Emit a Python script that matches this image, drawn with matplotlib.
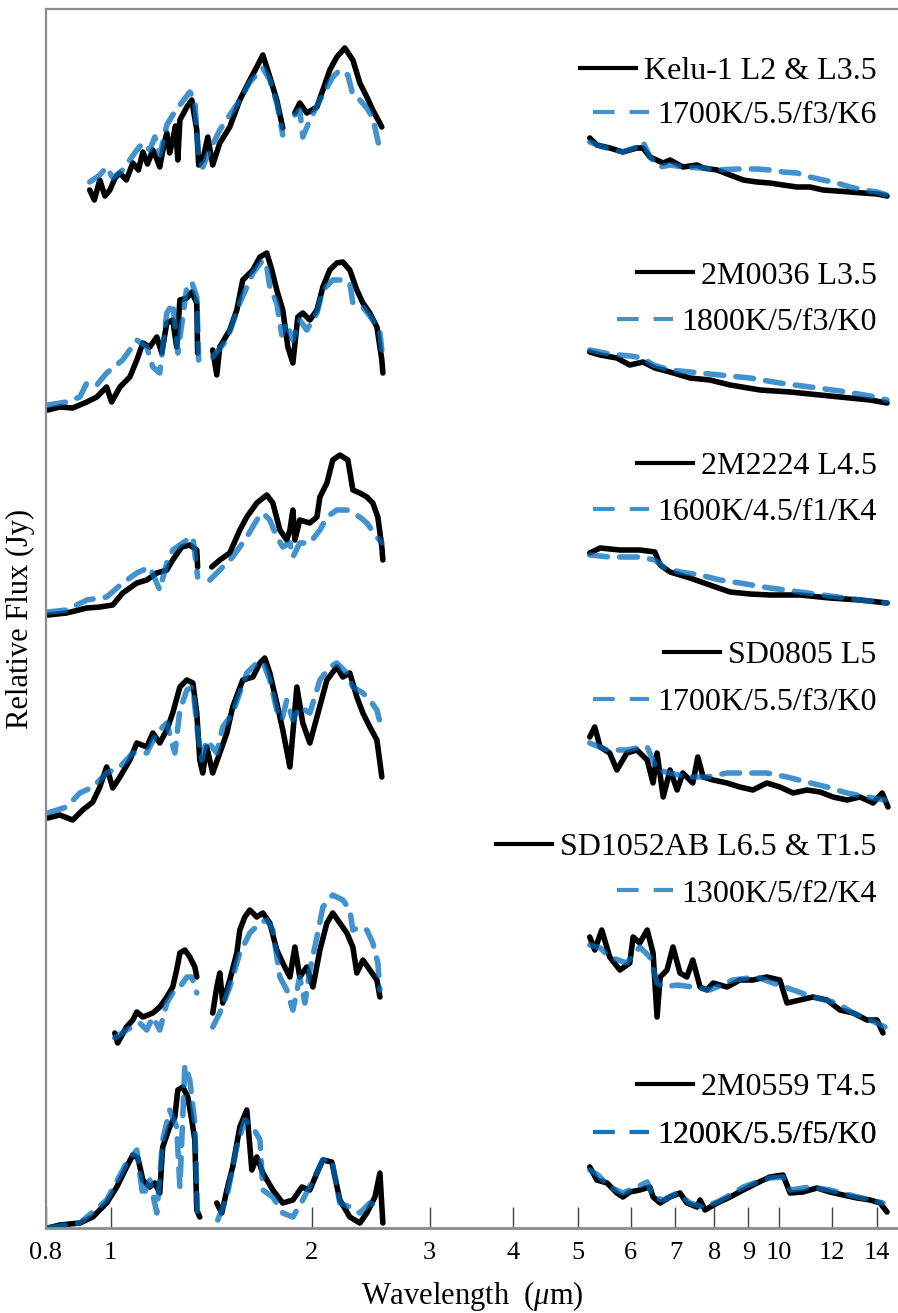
import numpy as np
import matplotlib
matplotlib.use("Agg")
import matplotlib.pyplot as plt
from matplotlib.font_manager import FontProperties
from matplotlib.lines import Line2D

nan = np.nan

# panel labels (top to bottom)
obs_names = ["Kelu-1 L2 & L3.5", "2M0036 L3.5", "2M2224 L4.5",
             "SD0805 L5", "SD1052AB L6.5 & T1.5", "2M0559 T4.5"]
model_names = ["1700K/5.5/f3/K6", "1800K/5/f3/K0", "1600K/4.5/f1/K4",
               "1700K/5.5/f3/K0", "1300K/5/f2/K4", "1200K/5.5/f5/K0"]
offsets = [10.2, 8.15, 6.1, 4.1, 2.0, 0.0]

# ---- Kelu-1 ----
kelu_obs_wl = [0.930, 0.945, 0.963, 0.980, 0.997, 1.015, 1.032, 1.055, 1.079, 1.100, 1.117, 1.135,
               1.156, 1.170, 1.184, 1.200, 1.213, 1.225, 1.238, 1.250, 1.260, 1.269,
               1.300, 1.322, 1.345, 1.354, 1.373, 1.397, 1.421, 1.456, 1.507, 1.560, 1.615, 1.654,
               1.689, 1.730, 1.772, 1.809, 1.84, 1.886, 1.918, 1.965, 2.035, 2.077, 2.127, 2.179,
               2.240, 2.303, 2.359, 2.417, 2.467, 2.545, 3.5,
               5.21, 5.34, 5.58, 5.84, 6.13, 6.26, 6.41, 6.71, 6.87, 7.18, 7.54, 7.70, 8.08, 8.45,
               8.84, 9.27, 9.69, 10.14, 10.64, 11.13, 11.64, 12.21, 12.77, 13.36, 14.02, 14.51]
kelu_obs = [0.18, 0.08, 0.28, 0.12, 0.18, 0.30, 0.35, 0.28, 0.45, 0.38, 0.56, 0.44,
            0.58, 0.50, 0.41, 0.62, 0.75, 0.55, 0.68, 0.82, 0.48, 0.88,
            1.01, 1.08, 0.78, 0.43, 0.48, 0.71, 0.43, 0.65, 0.81, 1.08, 1.28, 1.41,
            1.53, 1.31, 1.08, 0.80, nan, 0.95, 1.05, 0.95, 1.01, 1.18, 1.38, 1.51,
            1.60, 1.48, 1.25, 1.11, 0.98, 0.81, nan,
            0.70, 0.63, 0.60, 0.56, 0.60, 0.60, 0.51, 0.45, 0.48, 0.41, 0.43, 0.40, 0.38, 0.33,
            0.28, 0.26, 0.25, 0.23, 0.21, 0.21, 0.18, 0.17, 0.16, 0.15, 0.14, 0.12]
kelu_mod_wl = [0.930, 0.963, 0.986, 1.007, 1.042, 1.094, 1.117, 1.144, 1.164, 1.184, 1.213, 1.238,
               1.269, 1.313, 1.336, 1.354, 1.373, 1.407, 1.456, 1.507, 1.560, 1.615, 1.689, 1.730,
               1.772, 1.809, 1.84, 1.886, 1.918, 1.938, 1.986, 2.056, 2.149, 2.202, 2.264, 2.303,
               2.359, 2.417, 2.467, 2.528, 3.5,
               5.21, 5.45, 5.84, 6.13, 6.26, 6.41, 6.64, 6.87, 7.18, 7.70, 8.08, 8.65, 9.27, 9.69,
               10.14, 10.64, 11.13, 11.64, 12.21, 12.77, 13.36, 14.02, 14.51]
kelu_mod = [0.26, 0.33, 0.41, 0.30, 0.38, 0.58, 0.65, 0.58, 0.71, 0.53, 0.83, 0.93,
            1.03, 1.16, 1.08, 0.48, 0.41, 0.58, 0.78, 0.93, 1.08, 1.26, 1.40, 1.28,
            1.05, 0.73, nan, 0.93, 0.98, 0.71, 0.88, 1.08, 1.31, 1.38, 1.33, 1.13,
            1.08, 1.00, 0.90, 0.58, nan,
            0.66, 0.61, 0.56, 0.61, 0.66, 0.51, 0.41, 0.43, 0.41, 0.40, 0.38, 0.39, 0.39, 0.38,
            0.36, 0.35, 0.31, 0.28, 0.25, 0.21, 0.18, 0.16, 0.13]

# ---- 2M0036 ----
m0036_obs_wl = [0.805, 0.839, 0.877, 0.921, 0.953, 0.986, 1.003, 1.032, 1.068, 1.094, 1.117, 1.144,
                1.172, 1.192, 1.213, 1.238, 1.255, 1.269, 1.300, 1.322, 1.345, 1.349, 1.38, 1.421,
                1.441, 1.456, 1.507, 1.544, 1.576, 1.632, 1.672, 1.712, 1.742, 1.772, 1.809, 1.841,
                1.873, 1.905, 1.938, 1.986, 2.035, 2.077, 2.127, 2.179, 2.225, 2.279, 2.335, 2.384,
                2.442, 2.502, 2.545, 2.554, 3.5,
                5.21, 5.40, 5.72, 5.98, 6.26, 6.52, 6.87, 7.36, 7.88, 8.45, 9.37, 10.39, 11.52,
                12.77, 13.69, 14.51]
m0036_obs = [0.03, 0.06, 0.05, 0.11, 0.16, 0.26, 0.11, 0.26, 0.36, 0.53, 0.70, 0.66,
             0.76, 0.60, 0.90, 0.93, 0.66, 1.13, 1.15, 1.21, 1.10, 0.60, nan, 0.63,
             0.38, 0.66, 0.83, 1.03, 1.33, 1.43, 1.56, 1.60, 1.43, 1.23, 1.03, 0.66,
             0.50, 0.96, 1.00, 0.93, 1.03, 1.26, 1.43, 1.50, 1.51, 1.43, 1.23, 1.10,
             1.00, 0.86, 0.53, 0.40, nan,
             0.61, 0.58, 0.55, 0.48, 0.51, 0.45, 0.41, 0.35, 0.33, 0.28, 0.23, 0.21, 0.18,
             0.15, 0.13, 0.10]
m0036_mod_wl = [0.805, 0.859, 0.899, 0.921, 0.953, 0.986, 1.042, 1.094, 1.132, 1.156, 1.184, 1.213,
                1.238, 1.260, 1.300, 1.322, 1.345, 1.354, 1.38, 1.421, 1.492, 1.560, 1.632, 1.689,
                1.712, 1.730, 1.772, 1.803, 1.834, 1.873, 1.918, 1.965, 2.035, 2.077, 2.149, 2.225,
                2.279, 2.303, 2.384, 2.467, 2.528, 2.545, 3.5,
                5.21, 5.58, 5.98, 6.26, 6.48, 6.87, 7.36, 8.16, 9.05, 10.03, 11.13, 12.34, 13.69,
                14.51]
m0036_mod = [0.08, 0.11, 0.16, 0.30, 0.28, 0.40, 0.53, 0.73, 0.66, 0.46, 0.40, 1.00,
             1.10, 0.60, 1.26, 1.31, 1.16, 0.53, nan, 0.56, 0.73, 1.10, 1.40, 1.53,
             1.46, 1.26, 1.10, 0.78, 0.90, 0.73, 0.93, 0.83, 1.00, 1.23, 1.33, 1.33,
             1.30, 1.10, 1.06, 0.93, 0.80, 0.63, nan,
             0.63, 0.59, 0.57, 0.55, 0.48, 0.43, 0.41, 0.38, 0.35, 0.30, 0.26, 0.22, 0.17,
             0.13]

# ---- 2M2224 ----
m2224_obs_wl = [0.805, 0.859, 0.921, 0.963, 1.007, 1.042, 1.094, 1.132, 1.172, 1.213, 1.238, 1.277,
                1.313, 1.345, 1.349, 1.38, 1.416, 1.456, 1.507, 1.560, 1.598, 1.654, 1.712, 1.748,
                1.791, 1.834, 1.854, 1.873, 1.886, 1.918, 1.986, 2.035, 2.056, 2.106, 2.149, 2.202,
                2.264, 2.303, 2.359, 2.417, 2.467, 2.510, 2.545, 2.554, 3.5,
                5.21, 5.40, 5.78, 6.19, 6.52, 6.64, 6.87, 7.36, 7.88, 8.45, 9.05, 9.69, 10.75,
                11.92, 13.22, 14.51]
m2224_obs = [0.03, 0.05, 0.10, 0.11, 0.13, 0.25, 0.35, 0.38, 0.45, 0.48, 0.58, 0.71,
             0.73, 0.68, 0.51, nan, 0.51, 0.58, 0.65, 0.88, 1.01, 1.15, 1.23, 1.15,
             0.88, 0.78, 0.88, 1.08, 0.78, 0.98, 0.95, 1.01, 1.21, 1.35, 1.58, 1.63,
             1.58, 1.28, 1.25, 1.21, 1.15, 1.01, 0.71, 0.58, nan,
             0.65, 0.70, 0.68, 0.68, 0.66, 0.53, 0.46, 0.40, 0.33, 0.26, 0.24, 0.23, 0.23,
             0.20, 0.18, 0.15]
m2224_mod_wl = [0.805, 0.859, 0.921, 0.986, 1.042, 1.094, 1.144, 1.184, 1.213, 1.238, 1.300, 1.327,
                1.349, 1.38, 1.407, 1.456, 1.522, 1.598, 1.654, 1.689, 1.730, 1.772, 1.809, 1.854,
                1.873, 1.918, 1.986, 2.056, 2.106, 2.179, 2.256, 2.303, 2.359, 2.417, 2.502, 2.545,
                3.5,
                5.21, 5.58, 6.19, 6.52, 6.75, 7.11, 7.62, 8.16, 8.74, 9.69, 10.75, 11.92, 13.22,
                14.51]
m2224_mod = [0.06, 0.08, 0.18, 0.21, 0.35, 0.45, 0.51, 0.28, 0.55, 0.68, 0.78, 0.81,
             0.41, nan, 0.38, 0.48, 0.61, 0.81, 0.98, 1.05, 0.98, 0.81, 0.71, 0.75,
             0.61, 0.75, 0.75, 0.88, 1.01, 1.08, 1.08, 1.05, 1.01, 0.95, 0.81, 0.75,
             nan,
             0.63, 0.61, 0.61, 0.58, 0.50, 0.46, 0.43, 0.38, 0.35, 0.30, 0.26, 0.22, 0.18,
             0.15]

# ---- SD0805 ----
sd0805_obs_wl = [0.805, 0.839, 0.877, 0.908, 0.940, 0.963, 0.986, 1.007, 1.032, 1.068, 1.094, 1.132,
                 1.156, 1.184, 1.213, 1.238, 1.269, 1.300, 1.327, 1.345, 1.359, 1.373, 1.392, 1.421,
                 1.456, 1.492, 1.522, 1.576, 1.632, 1.672, 1.700, 1.730, 1.772, 1.809, 1.854, 1.899,
                 1.938, 1.986, 2.035, 2.106, 2.179, 2.225, 2.279, 2.335, 2.384, 2.442, 2.502, 2.545,
                 3.5,
                 5.21, 5.30, 5.40, 5.58, 5.72, 5.92, 6.13, 6.35, 6.48, 6.57, 6.71, 6.87, 7.04,
                 7.18, 7.43, 7.56, 7.70, 7.97, 8.36, 8.74, 9.14, 9.59, 10.03, 10.50, 11.01, 11.52,
                 12.05, 12.64, 13.22, 13.83, 14.27, 14.56]
sd0805_obs = [0.00, 0.03, -0.02, 0.08, 0.16, 0.31, 0.51, 0.30, 0.41, 0.58, 0.75, 0.71,
              0.85, 0.75, 0.88, 1.05, 1.31, 1.38, 1.35, 1.05, 0.58, 0.45, 0.71, 0.45,
              0.65, 0.85, 1.11, 1.38, 1.41, 1.55, 1.60, 1.45, 1.15, 0.88, 0.51, 1.31,
              0.95, 0.75, 1.01, 1.38, 1.51, 1.41, 1.45, 1.21, 1.05, 0.91, 0.78, 0.41,
              nan,
              0.81, 0.91, 0.71, 0.65, 0.48, 0.65, 0.68, 0.58, 0.35, 0.65, 0.21, 0.48, 0.28,
              0.45, 0.35, 0.61, 0.41, 0.38, 0.35, 0.31, 0.28, 0.35, 0.31, 0.25, 0.28, 0.26,
              0.21, 0.18, 0.21, 0.15, 0.25, 0.11]
sd0805_mod_wl = [0.805, 0.859, 0.899, 0.940, 0.986, 1.032, 1.079, 1.132, 1.172, 1.213, 1.247, 1.269,
                 1.300, 1.327, 1.349, 1.368, 1.392, 1.441, 1.471, 1.522, 1.598, 1.654, 1.689, 1.730,
                 1.772, 1.803, 1.834, 1.873, 1.918, 1.986, 2.056, 2.127, 2.179, 2.256, 2.303, 2.384,
                 2.442, 2.502, 2.545, 3.5,
                 5.21, 5.53, 5.92, 6.13, 6.35, 6.57, 6.87, 7.28, 7.80, 8.36, 8.96, 9.59, 10.28,
                 11.01, 11.80, 12.64, 13.54, 14.41]
sd0805_mod = [0.05, 0.11, 0.25, 0.31, 0.45, 0.51, 0.65, 0.65, 0.85, 0.95, 0.65, 1.08,
              1.28, 1.31, 0.85, 0.58, 0.78, 0.65, 0.91, 1.05, 1.45, 1.55, 1.56, 1.38,
              1.08, 0.98, 1.18, 0.98, 1.11, 1.05, 1.38, 1.51, 1.55, 1.45, 1.31, 1.25,
              1.18, 1.08, 0.88, nan,
              0.75, 0.68, 0.68, 0.70, 0.71, 0.48, 0.45, 0.41, 0.41, 0.45, 0.45, 0.45, 0.41,
              0.36, 0.31, 0.25, 0.21, 0.18]

# ---- SD1052AB ----
sd1052_obs_wl = [1.014, 1.024, 1.056, 1.079, 1.094, 1.117, 1.156, 1.184, 1.213, 1.238, 1.255, 1.269,
                 1.291, 1.313, 1.336, 1.345, 1.38, 1.421, 1.441, 1.456, 1.471, 1.507, 1.544, 1.560,
                 1.587, 1.615, 1.654, 1.689, 1.730, 1.772, 1.809, 1.854, 1.886, 1.918, 1.965, 2.007,
                 2.056, 2.106, 2.149, 2.202, 2.256, 2.303, 2.335, 2.384, 2.442, 2.502, 2.528, 3.5,
                 5.21, 5.30, 5.43, 5.58, 5.78, 5.98, 6.05, 6.19, 6.35, 6.48, 6.57, 6.64, 6.80,
                 6.94, 7.11, 7.28, 7.43, 7.62, 7.80, 7.97, 8.36, 8.74, 9.14, 9.59, 10.03, 10.28,
                 10.75, 11.24, 11.80, 12.34, 12.91, 13.54, 14.02, 14.31]
sd1052_obs = [-0.05, -0.15, 0.01, 0.08, 0.16, 0.11, 0.15, 0.21, 0.31, 0.41, 0.58, 0.75,
              0.78, 0.71, 0.61, 0.51, nan, 0.15, 0.41, 0.55, 0.25, 0.48, 0.75, 0.98,
              1.11, 1.18, 1.11, 1.15, 1.05, 0.78, 0.65, 0.51, 0.81, 0.51, 0.61, 0.41,
              0.78, 1.05, 1.15, 1.05, 0.95, 0.81, 0.55, 0.68, 0.58, 0.48, 0.31, nan,
              0.91, 0.78, 0.98, 0.71, 0.58, 0.65, 0.91, 0.85, 0.98, 0.75, 0.11, 0.51, 0.58,
              0.81, 0.55, 0.51, 0.68, 0.41, 0.38, 0.45, 0.41, 0.48, 0.48, 0.51, 0.48, 0.25,
              0.28, 0.31, 0.28, 0.18, 0.15, 0.08, 0.08, -0.05]
sd1052_mod_wl = [1.014, 1.056, 1.105, 1.132, 1.156, 1.184, 1.213, 1.238, 1.269, 1.300, 1.322, 1.345,
                 1.38, 1.421, 1.456, 1.507, 1.560, 1.615, 1.672, 1.712, 1.748, 1.791, 1.834, 1.873,
                 1.918, 1.952, 1.986, 2.035, 2.077, 2.149, 2.225, 2.279, 2.303, 2.359, 2.417, 2.467,
                 2.510, 2.528, 3.5,
                 5.21, 5.40, 5.58, 5.92, 6.19, 6.41, 6.57, 6.71, 7.04, 7.43, 7.88, 8.53, 9.27,
                 9.79, 10.50, 11.24, 12.21, 12.91, 13.69, 14.41]
sd1052_mod = [-0.10, -0.02, 0.05, -0.02, 0.11, -0.02, 0.25, 0.35, 0.41, 0.51, 0.51, 0.35,
              nan, 0.01, 0.15, 0.41, 0.75, 0.95, 1.05, 1.08, 0.98, 0.51, 0.38, 0.18,
              0.51, 0.25, 0.58, 0.91, 1.21, 1.33, 1.28, 1.18, 0.98, 1.01, 0.98, 0.85,
              0.65, 0.38, nan,
              0.83, 0.80, 0.71, 0.65, 0.81, 0.71, 0.45, 0.41, 0.43, 0.41, 0.38, 0.48, 0.51,
              0.45, 0.38, 0.31, 0.25, 0.15, 0.08, 0.01]

# ---- 2M0559 ----
m0559_obs_wl = [0.805, 0.839, 0.899, 0.940, 0.986, 1.021, 1.056, 1.079, 1.098, 1.117, 1.144, 1.164,
                1.184, 1.196, 1.225, 1.247, 1.260, 1.282, 1.304, 1.322, 1.336, 1.345, 1.359, 1.40,
                1.441, 1.466, 1.492, 1.522, 1.560, 1.598, 1.626, 1.654, 1.689, 1.748, 1.809, 1.873,
                1.932, 1.986, 2.035, 2.077, 2.142, 2.202, 2.279, 2.359, 2.417, 2.485, 2.528, 2.554,
                3.5,
                5.21, 5.34, 5.53, 5.72, 5.84, 5.98, 6.19, 6.41, 6.48, 6.64, 6.87, 7.11, 7.28,
                7.54, 7.62, 7.75, 8.08, 8.45, 8.84, 9.27, 9.69, 10.14, 10.39, 10.86, 11.40, 11.92,
                12.47, 13.09, 13.69, 14.17, 14.51]
m0559_obs = [0.00, 0.03, 0.05, 0.11, 0.25, 0.41, 0.61, 0.73, 0.70, 0.48, 0.41, 0.45,
             0.35, 0.81, 1.01, 1.11, 1.38, 1.41, 1.31, 1.08, 0.88, 0.18, 0.11, nan,
             0.25, 0.15, 0.38, 0.61, 1.01, 1.18, 0.58, 0.71, 0.55, 0.38, 0.25, 0.28,
             0.41, 0.38, 0.55, 0.68, 0.66, 0.28, 0.11, 0.05, 0.15, 0.31, 0.55, 0.05,
             nan,
             0.61, 0.48, 0.45, 0.35, 0.31, 0.36, 0.38, 0.41, 0.31, 0.25, 0.31, 0.35, 0.25,
             0.21, 0.28, 0.18, 0.25, 0.31, 0.38, 0.45, 0.51, 0.53, 0.35, 0.36, 0.40, 0.36,
             0.33, 0.30, 0.28, 0.25, 0.16]
m0559_mod_wl = [0.805, 0.899, 0.986, 1.056, 1.094, 1.117, 1.144, 1.172, 1.196, 1.225, 1.255, 1.269,
                1.291, 1.313, 1.336, 1.349, 1.40, 1.446, 1.492, 1.544, 1.587, 1.632, 1.672, 1.689,
                1.748, 1.809, 1.873, 1.938, 2.007, 2.077, 2.142, 2.202, 2.279, 2.359, 2.442, 2.528,
                3.5,
                5.21, 5.36, 5.58, 5.84, 6.13, 6.35, 6.48, 6.71, 7.04, 7.36, 7.70, 8.08, 8.45,
                8.84, 9.27, 9.69, 10.14, 10.39, 11.13, 11.92, 12.77, 13.69, 14.31]
m0559_mod = [0.00, 0.05, 0.28, 0.65, 0.78, 0.31, 0.48, 0.15, 0.88, 1.18, 1.01, 0.41,
             1.63, 1.48, 1.05, 0.08, nan, 0.08, 0.31, 0.81, 1.08, 1.01, 0.88, 0.38,
             0.31, 0.15, 0.11, 0.28, 0.48, 0.68, 0.68, 0.25, 0.21, 0.15, 0.25, 0.21,
             nan,
             0.58, 0.53, 0.41, 0.35, 0.41, 0.46, 0.31, 0.28, 0.35, 0.25, 0.21, 0.26, 0.33,
             0.41, 0.46, 0.50, 0.51, 0.38, 0.41, 0.38, 0.33, 0.28, 0.25]

obs_wl = [kelu_obs_wl, m0036_obs_wl, m2224_obs_wl, sd0805_obs_wl, sd1052_obs_wl, m0559_obs_wl]
obs_flux = [kelu_obs, m0036_obs, m2224_obs, sd0805_obs, sd1052_obs, m0559_obs]
mod_wl = [kelu_mod_wl, m0036_mod_wl, m2224_mod_wl, sd0805_mod_wl, sd1052_mod_wl, m0559_mod_wl]
mod_flux = [kelu_mod, m0036_mod, m2224_mod, sd0805_mod, sd1052_mod, m0559_mod]

tick_vals = [0.8, 1, 2, 3, 4, 5, 6, 7, 8, 9, 10, 12, 14]
tick_labels = ["0.8", "1", "2", "3", "4", "5", "6", "7", "8", "9", "10", "12", "14"]

plt.rcParams["font.family"] = ["Liberation Serif", "DejaVu Serif"]
plt.rcParams["mathtext.fontset"] = "custom"
plt.rcParams["mathtext.rm"] = "Liberation Serif"
plt.rcParams["mathtext.it"] = "Liberation Serif:italic"

fig = plt.figure(figsize=(8.98, 13.13), dpi=100)
ax = fig.add_axes([46 / 898, 85 / 1313, 852 / 898, 1219 / 1313])

model_color = "#006cbd"
leg_font = FontProperties(family="Liberation Serif", size=23)
# legend rows (axes fraction) for the observed / model entries of each panel
leg_y_obs = [0.949, 0.781, 0.625, 0.470, 0.312, 0.115]
leg_y_mod = [0.913, 0.743, 0.587, 0.431, 0.274, 0.076]

# legend handles (short solid / two-dash lines)
h_obs = Line2D([], [], color="black", lw=3.0)
h_mod = Line2D([], [], color=model_color, alpha=0.74, lw=3.0, linestyle=(0, (5.2, 3.6)))

for i in range(6):
    yo = np.array(obs_flux[i]) + offsets[i]
    ym = np.array(mod_flux[i]) + offsets[i]
    ax.plot(obs_wl[i], yo, color="black", lw=4.0,
            solid_joinstyle="round", solid_capstyle="round")
    ax.plot(mod_wl[i], ym, color=model_color, alpha=0.74, lw=4.0,
            linestyle=(0, (3.2, 2.2)), dash_capstyle="round")
    for h, lab, yy in [(h_obs, obs_names[i], leg_y_obs[i]),
                       (h_mod, model_names[i], leg_y_mod[i])]:
        leg = ax.legend([h], [lab], loc="center right", bbox_to_anchor=(0.975, yy),
                        frameon=False, borderpad=0, borderaxespad=0,
                        handlelength=1.75, handletextpad=0.25, prop=leg_font)
        ax.add_artist(leg)

ax.set_xscale("log")
ax.set_xlim(0.8, 15.07)
ax.set_ylim(0, 12.19)
ax.set_xticks(tick_vals)
ax.set_xticklabels(tick_labels)
ax.xaxis.set_minor_locator(matplotlib.ticker.NullLocator())
ax.set_yticks([])
ax.tick_params(axis="x", direction="in", length=15, width=1.0, color="#444444",
               labelsize=19, pad=10)

for side in ["top", "left", "bottom"]:
    ax.spines[side].set_color("#8c8c8c")
    ax.spines[side].set_linewidth(1.6)
ax.spines["bottom"].set_linewidth(2.0)
ax.spines["right"].set_visible(False)

ax.set_xlabel("Wavelength  ($\\mu$m)", fontsize=22, labelpad=11)
ax.set_ylabel("Relative Flux (Jy)", fontsize=22, labelpad=8)

fig.savefig("out.png", dpi=100)
